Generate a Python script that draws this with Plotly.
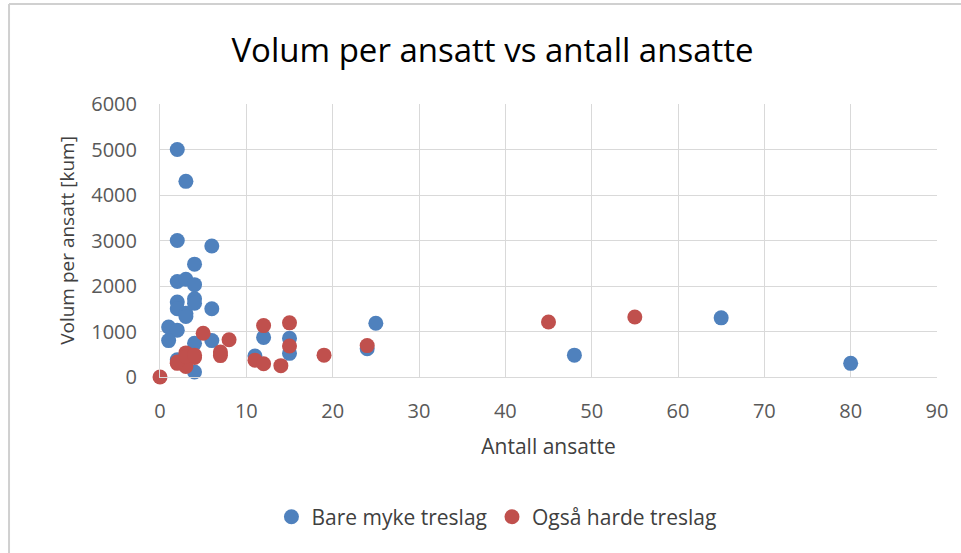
import plotly.graph_objects as go

title = "Volum per ansatt vs antall ansatte"
x_title = "Antall ansatte"
y_title = "Volum per ansatt [kum]"

soft_name = "Bare myke treslag"
soft_x = [2, 3, 2, 6, 4, 2, 3, 4, 2, 4, 4, 2, 3, 3, 6, 1, 2, 1, 4, 6, 2, 4,
          11, 12, 15, 15, 24, 25, 48, 65, 80]
soft_y = [5000, 4300, 3000, 2880, 2480, 2100, 2150, 2030, 1650, 1720, 1620, 1500, 1400, 1330, 1500, 1100, 1030, 800, 740, 800, 380, 110,
          460, 870, 850, 520, 620, 1180, 480, 1300, 300]

hard_name = "Også harde treslag"
hard_x = [0, 5, 8, 7, 7, 3, 4, 2, 3, 2, 3, 4, 12, 11, 12, 15, 15, 14, 19, 24, 45, 55]
hard_y = [0, 960, 820, 550, 470, 530, 430, 300, 230, 330, 450, 480, 1130, 370, 290, 1190, 680, 250, 480, 690, 1210, 1320]

x_ticks = [0, 10, 20, 30, 40, 50, 60, 70, 80, 90]
y_ticks = [0, 1000, 2000, 3000, 4000, 5000, 6000]

FONT = "Open Sans"
fig = go.Figure()
fig.add_trace(go.Scatter(x=soft_x, y=soft_y, mode="markers", name=soft_name, cliponaxis=False,
                         marker=dict(color="#4F81BD", size=15)))
fig.add_trace(go.Scatter(x=hard_x, y=hard_y, mode="markers", name=hard_name, cliponaxis=False,
                         marker=dict(color="#C0504D", size=15)))

fig.update_layout(
    width=961, height=553,
    paper_bgcolor="white", plot_bgcolor="white",
    margin=dict(l=160, r=24, t=104, b=176),
    title=dict(text=title, x=0.5125, xanchor="center", y=0.9096, yanchor="middle",
               font=dict(family=FONT, size=33, color="#000000")),
    font=dict(family=FONT, color="#595959"),
    xaxis=dict(range=[0, 90], tickvals=x_ticks, showgrid=True, gridcolor="#d9d9d9",
               zeroline=False, showline=True, linecolor="#d9d9d9", ticks="",
               automargin=False,
               tickfont=dict(size=20, color="#595959"), ticklabelstandoff=16,
               title=dict(text=x_title, font=dict(size=21, color="#404040"), standoff=16)),
    yaxis=dict(range=[0, 6000], tickvals=y_ticks, showgrid=True, gridcolor="#d9d9d9",
               zeroline=False, showline=True, linecolor="#d9d9d9", ticks="",
               automargin=False,
               tickfont=dict(size=20, color="#595959"), ticklabelstandoff=18,
               title=dict(text=y_title, font=dict(size=19, color="#404040"), standoff=11)),
    legend=dict(orientation="h", x=0.433, xanchor="center", y=-0.513, yanchor="middle",
                font=dict(size=21, color="#404040"), itemwidth=30),
    showlegend=True,
)
fig.add_shape(type="line", xref="paper", yref="paper", x0=-0.1943, x1=-0.1943, y0=-1, y1=1.3663,
              line=dict(color="#d0d0d0", width=2))
fig.add_shape(type="line", xref="paper", yref="paper", x0=-0.1943, x1=1.2, y0=1.3663, y1=1.3663,
              line=dict(color="#d0d0d0", width=2))
fig.write_html("out.html", config={"displayModeBar": False},
               post_script="document.body.style.margin='0';")
